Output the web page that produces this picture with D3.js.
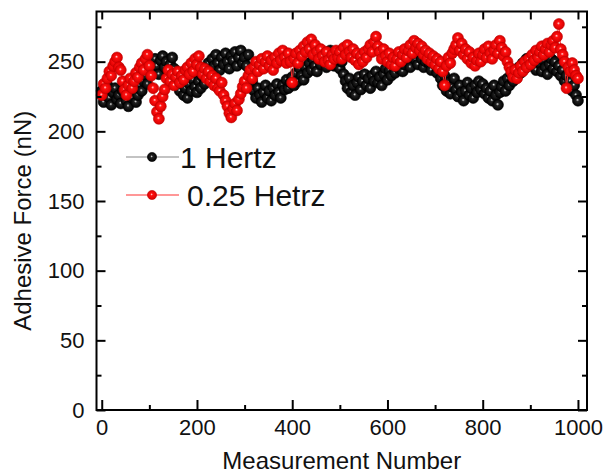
<!DOCTYPE html>
<html lang="en">
<head>
<meta charset="UTF-8">
<title>Adhesive Force vs Measurement Number</title>
<script src="https://d3js.org/d3.v7.min.js"></script>
<style>
html,body{margin:0;padding:0;background:#fff}
svg{display:block;font-family:"Liberation Sans",Arial,sans-serif}
.tick text{fill:#111}
</style>
</head>
<body>
<svg id="chart" width="605" height="475"></svg>
<script>
// measurement number step (one point every 4 measurements, 0..1000)
const stepX = 4;

// 1 Hertz series (black), 25 values per row of 100 measurements
const oneHertz = [
  229,221,226,233,224,219,228,231,223,226,220,229,232,222,218,227,224,230,221,226,233,229,236,240,234,
  243,249,245,252,247,241,251,254,246,250,244,248,253,245,239,233,229,236,226,231,224,234,229,237,232,
  228,236,231,239,234,244,249,242,252,247,255,249,244,253,248,256,250,245,254,251,257,247,253,258,249,
  253,247,255,243,236,229,224,231,226,221,228,233,224,229,222,231,226,234,228,224,233,230,237,231,235,
  239,233,242,236,245,240,237,246,242,249,244,251,247,243,252,248,255,250,246,254,258,251,247,253,249,
  245,250,241,236,231,238,228,233,226,235,239,230,236,241,233,238,231,240,236,243,235,239,233,241,245,
  237,244,240,247,242,249,245,251,243,248,254,250,246,253,257,251,248,255,252,246,250,256,249,244,251,
  248,242,245,238,233,240,229,235,227,232,238,230,225,233,228,222,229,235,226,231,224,233,228,236,230,
  234,227,231,224,229,222,233,226,219,228,232,236,229,238,233,241,236,244,239,246,242,249,245,252,248,
  253,247,250,244,255,249,243,251,246,241,248,252,245,250,243,247,240,244,236,240,232,236,229,233,226,
  222
];

// 0.25 Hetrz series (red)
const quarterHertz = [
  226,234,231,238,243,240,247,250,253,246,244,236,230,226,233,238,231,236,242,239,246,249,244,252,255,
  247,240,231,222,214,209,218,225,230,238,244,236,241,233,239,243,235,240,237,244,246,241,249,243,252,
  248,254,246,241,245,238,243,236,240,233,238,231,229,235,226,222,218,213,210,216,220,215,223,227,232,
  236,231,240,244,238,246,250,243,248,252,245,250,254,247,251,244,253,249,256,251,258,253,249,256,250,
  235,252,256,249,258,254,261,257,264,259,266,255,262,257,252,259,254,250,257,251,248,255,252,258,253,
  257,252,260,255,262,257,253,259,251,256,248,254,250,257,253,259,262,257,264,268,261,257,252,259,254,
  250,256,248,253,247,252,257,250,255,259,253,258,262,256,265,260,263,258,261,255,258,252,256,250,254,
  248,252,245,250,243,233,247,253,249,256,259,262,267,258,263,255,259,252,257,249,253,247,251,256,250,
  255,259,253,261,256,252,258,262,256,265,260,254,257,250,246,243,239,244,238,242,247,243,250,246,252,
  248,255,251,258,253,257,261,255,259,263,257,262,265,260,268,277,259,255,250,231,246,243,249,244,240,
  238
];

const seriesNames = ['1 Hertz', '0.25 Hetrz'];
const xTicks = [0, 200, 400, 600, 800, 1000];
const xMinorTicks = [100, 300, 500, 700, 900];
const yTicks = [0, 50, 100, 150, 200, 250];
const yMinorTicks = [25, 75, 125, 175, 225, 275];

const svg = d3.select('#chart');
const plotLeft = 96.5, plotRight = 587, plotTop = 11.5, plotBottom = 410;

const x = d3.scaleLinear().domain([-11, 1019]).range([plotLeft, plotRight]);
const y = d3.scaleLinear().domain([0, 286]).range([plotBottom, plotTop]);

// ball-like marker gradients
const defs = svg.append('defs');
function ball(id, hi, mid, edge) {
  const g = defs.append('radialGradient').attr('id', id)
    .attr('cx', '50%').attr('cy', '50%').attr('r', '50%')
    .attr('fx', '45%').attr('fy', '42%');
  g.append('stop').attr('offset', '0%').attr('stop-color', hi);
  g.append('stop').attr('offset', '28%').attr('stop-color', mid);
  g.append('stop').attr('offset', '100%').attr('stop-color', edge);
}
ball('ballBlack', '#e8e8e8', '#222', '#000');
ball('ballRed', '#ffe0e0', '#ff1010', '#d80000');

const series = [
  { name: seriesNames[0], values: oneHertz, line: '#888', fill: 'url(#ballBlack)', stroke: '#000' },
  { name: seriesNames[1], values: quarterHertz, line: '#ff3030', fill: 'url(#ballRed)', stroke: '#c00000' }
];

const plot = svg.append('g');
const line = d3.line().x(function(d, i) { return x(i * stepX); }).y(function(d) { return y(d); });

series.forEach(function(s) {
  plot.append('path').datum(s.values)
    .attr('fill', 'none').attr('stroke', s.line).attr('stroke-width', 1)
    .attr('d', line);
  plot.selectAll(null).data(s.values).join('circle')
    .attr('cx', function(d, i) { return x(i * stepX); })
    .attr('cy', function(d) { return y(d); })
    .attr('r', 5.5)
    .attr('fill', s.fill)
    .attr('stroke', s.stroke).attr('stroke-width', 0.6);
});

// axes with inward ticks, on all four sides
const tickFont = '22px';
function styleAxis(g) {
  g.select('.domain').remove();
  g.selectAll('.tick line').attr('stroke', '#000').attr('stroke-width', 2);
  g.selectAll('.tick text').style('font-size', tickFont);
}

svg.append('g').attr('transform', 'translate(0,' + plotBottom + ')')
  .call(d3.axisBottom(x).tickValues(xTicks).tickSize(-10).tickPadding(9).tickFormat(d3.format('d')))
  .call(styleAxis);
svg.append('g').attr('transform', 'translate(0,' + plotBottom + ')')
  .call(d3.axisBottom(x).tickValues(xMinorTicks).tickSize(-5).tickFormat(''))
  .call(styleAxis);
svg.append('g').attr('transform', 'translate(0,' + plotTop + ')')
  .call(d3.axisTop(x).tickValues(xTicks.concat(xMinorTicks)).tickSize(-8).tickFormat(''))
  .call(styleAxis);

svg.append('g').attr('transform', 'translate(' + plotLeft + ',0)')
  .call(d3.axisLeft(y).tickValues(yTicks).tickSize(-9).tickPadding(12).tickFormat(d3.format('d')))
  .call(styleAxis);
svg.append('g').attr('transform', 'translate(' + plotLeft + ',0)')
  .call(d3.axisLeft(y).tickValues(yMinorTicks).tickSize(-5).tickFormat(''))
  .call(styleAxis);
svg.append('g').attr('transform', 'translate(' + plotRight + ',0)')
  .call(d3.axisRight(y).tickValues(yTicks).tickSize(-9).tickFormat(''))
  .call(styleAxis);
svg.append('g').attr('transform', 'translate(' + plotRight + ',0)')
  .call(d3.axisRight(y).tickValues(yMinorTicks).tickSize(-5).tickFormat(''))
  .call(styleAxis);

// frame
svg.append('rect')
  .attr('x', plotLeft).attr('y', plotTop)
  .attr('width', plotRight - plotLeft).attr('height', plotBottom - plotTop)
  .attr('fill', 'none').attr('stroke', '#000').attr('stroke-width', 2);

// axis titles
svg.append('text')
  .attr('x', (plotLeft + plotRight) / 2).attr('y', 469)
  .attr('text-anchor', 'middle').style('font-size', '24px').attr('fill', '#111')
  .text('Measurement Number');
svg.append('text')
  .attr('transform', 'translate(31,' + ((plotTop + plotBottom) / 2 + 10) + ') rotate(-90)')
  .attr('text-anchor', 'middle').style('font-size', '24px').attr('fill', '#111')
  .text('Adhesive Force (nN)');

// legend
const legendRows = [
  { s: series[0], y: 157, textX: 180, label: seriesNames[0] },
  { s: series[1], y: 195, textX: 187, label: seriesNames[1] }
];
const legend = svg.append('g');
legendRows.forEach(function(r) {
  legend.append('line')
    .attr('x1', 126).attr('x2', 179).attr('y1', r.y).attr('y2', r.y)
    .attr('stroke', r.s.line).attr('stroke-width', 1.2);
  legend.append('circle')
    .attr('cx', 152).attr('cy', r.y).attr('r', 4.6)
    .attr('fill', r.s.fill).attr('stroke', r.s.stroke).attr('stroke-width', 0.6);
  legend.append('text')
    .attr('x', r.textX).attr('y', r.y + 10.5)
    .style('font-size', '30px').attr('fill', '#111')
    .text(r.label);
});
</script>
</body>
</html>
